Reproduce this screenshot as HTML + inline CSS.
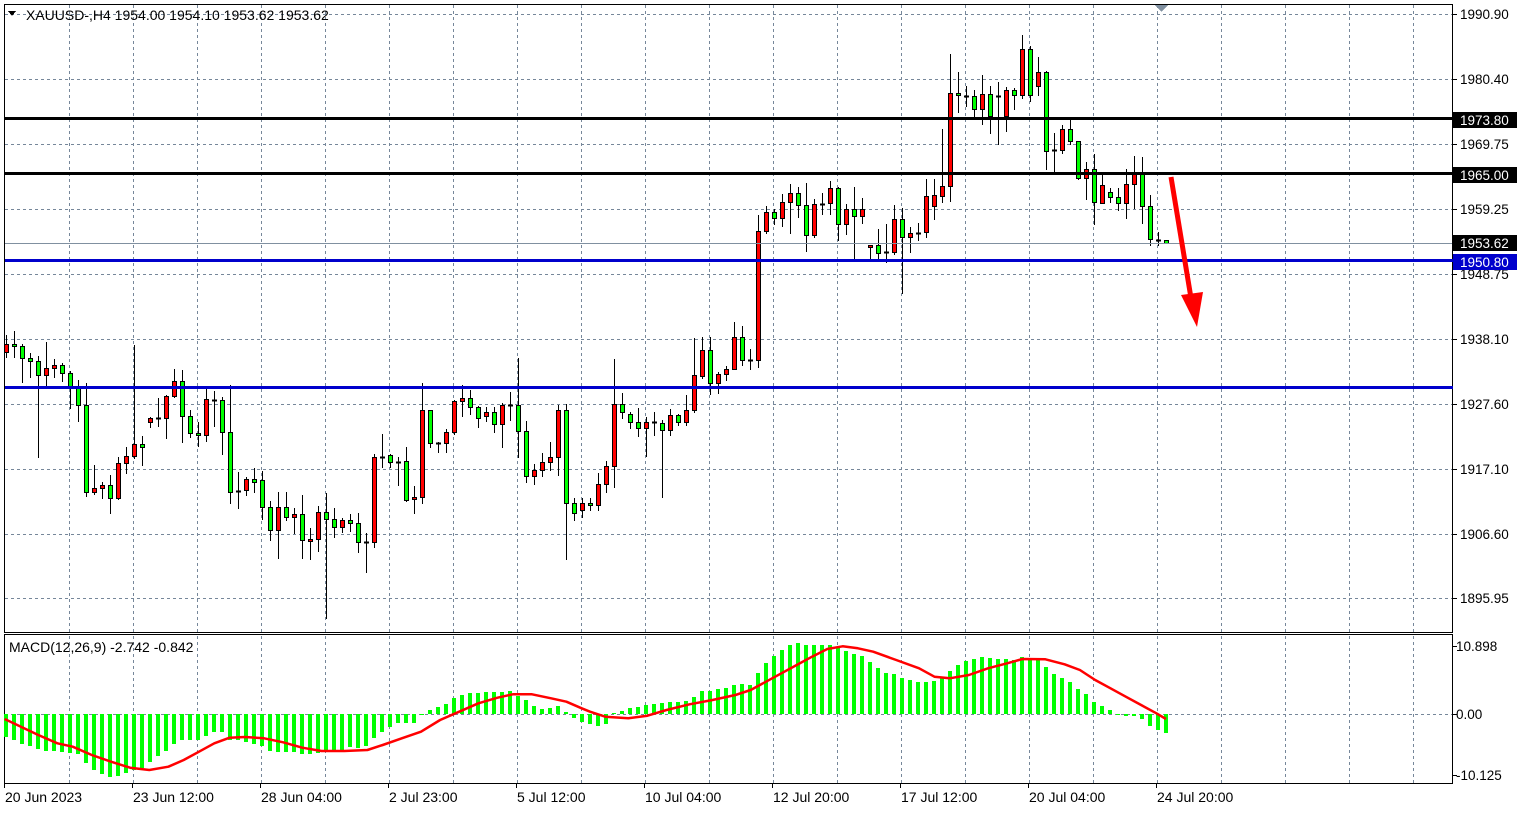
<!DOCTYPE html>
<html><head><meta charset="utf-8"><style>
html,body{margin:0;padding:0;background:#fff;}
svg{display:block;font-family:"Liberation Sans",sans-serif;}
</style></head><body>
<svg id="s" width="1526" height="813" xmlns="http://www.w3.org/2000/svg" shape-rendering="crispEdges"></svg>
<script>
const S=document.getElementById('s');const NS='http://www.w3.org/2000/svg';
function el(t,a,txt){const e=document.createElementNS(NS,t);for(const k in a)e.setAttribute(k,a[k]);if(txt!==undefined)e.textContent=txt;S.appendChild(e);return e;}
el('rect',{x:0,y:0,width:1526,height:813,fill:'#fff'});
const hy=[14,79,144,209,274,339,404,469,534,598];
hy.forEach(y=>el('line',{x1:5,x2:1452,y1:y+.5,y2:y+.5,stroke:'#76879a','stroke-dasharray':'3,3'}));
for(let x=69;x<1452;x+=64){el('line',{x1:x+.5,x2:x+.5,y1:5,y2:632,stroke:'#76879a','stroke-dasharray':'3,3'});el('line',{x1:x+.5,x2:x+.5,y1:636,y2:783,stroke:'#76879a','stroke-dasharray':'3,3'});}
el('line',{x1:5,x2:1452,y1:714.5,y2:714.5,stroke:'#76879a','stroke-dasharray':'3,3'});
el('rect',{x:4.5,y:4.5,width:1448,height:628,fill:'none',stroke:'#000'});
el('rect',{x:4.5,y:634.5,width:1448,height:149,fill:'none',stroke:'#000'});
const H=[737,740,744,746,749,751,751,752,753,754,763,770,774,777,776,773,770,768,762,756,751,744,740,740,740,736,732,732,740,740,742,744,746,751,752,752,752,754,754,753,752,751,750,747,748,746,738,732,727,723,723,723,714,710,707,704,698,695,693,693,692,692,692,691,696,700,706,709,708,706,712,718,722,724,726,724,713,711,708,707,705,704,703,702,702,701,697,691,691,689,688,685,684,685,673,663,656,650,645,643,645,645,645,645,648,651,654,656,662,668,673,674,678,680,682,682,681,678,671,665,661,659,657,658,659,659,660,657,659,660,667,674,678,682,689,694,702,706,710,715,716,716,719,726,730,733];
H.forEach((y,i)=>{const x=6+8*i;const t=Math.min(y,714),b=Math.max(y,714);el('rect',{x:x-2,y:t,width:4,height:Math.max(1,b-t),fill:'#00ff00'});});
const p1=[[12,252],[100,300],[150,325],[190,335],[240,360],[290,380],[340,398],[390,405],[440,395],[480,375],[520,350],[560,325],[600,308],[640,306],[690,310],[740,322],[790,338],[840,348],[900,348],[960,345],[1000,330],[1050,310],[1100,290],[1150,255],[1200,230],[1250,205],[1300,188],[1340,178],[1390,178],[1440,190],[1480,200],[1520,220]].map(p=>[p[0]/2.613,635+p[1]/3]);
const p2=[[0,230],[40,245],[100,250],[150,242],[200,225],[260,208],[320,195],[380,180],[420,165],[460,140],[500,115],[540,90],[580,65],[620,42],[660,34],[700,40],[740,50],[800,75],[860,100],[900,125],[940,130],[990,120],[1040,100],[1090,85],[1130,72],[1190,73],[1240,88],[1280,105],[1320,135],[1360,160],[1400,185],[1440,210],[1480,235],[1505,252]].map(p=>[590+p[0]/2.613,635+p[1]/3]);
el('polyline',{points:p1.concat(p2).map(p=>p[0].toFixed(1)+','+p[1].toFixed(1)).join(' '),fill:'none',stroke:'#ff0000','stroke-width':2.5,'stroke-linejoin':'round','shape-rendering':'auto'});
const C=[[344,352,335,357,'r'],[344,346,331,357,'g'],[346,358,344,382,'g'],[358,361,353,377,'g'],[361,375,356,457,'g'],[368,375,342,386,'r'],[365,368,359,377,'r'],[365,373,363,381,'g'],[373,388,371,408,'g'],[388,405,380,421,'g'],
[405,492,383,496,'g'],[488,492,465,494,'r'],[485,488,482,498,'r'],[485,498,475,513,'g'],[463,498,457,499,'r'],[456,463,447,473,'r'],[444,456,345,458,'r'],[444,447,436,465,'g'],[418,422,417,427,'r'],[418,418,398,426,'d'],
[396,418,395,438,'r'],[381,396,369,397,'r'],[381,416,370,442,'g'],[416,433,410,437,'g'],[433,435,422,446,'g'],[399,435,389,441,'r'],[400,400,391,426,'d'],[400,432,397,454,'g'],[432,492,385,503,'g'],[491,491,472,508,'d'],
[479,490,477,495,'r'],[479,482,468,492,'g'],[480,507,471,519,'g'],[507,530,501,540,'g'],[507,530,492,558,'r'],[507,517,492,520,'g'],[514,517,508,533,'r'],[514,540,495,558,'g'],[539,541,528,559,'r'],[512,539,506,551,'r'],
[512,519,493,618,'g'],[519,527,508,537,'g'],[520,527,518,532,'r'],[520,523,514,531,'g'],[523,542,513,552,'g'],[542,542,533,572,'d'],[457,542,454,547,'r'],[457,457,434,467,'d'],[455,462,454,467,'g'],[462,462,457,485,'d'],
[461,500,447,501,'g'],[497,499,486,513,'r'],[410,497,383,503,'r'],[410,443,410,447,'g'],[443,443,442,452,'d'],[432,443,429,452,'r'],[401,432,400,434,'r'],[398,401,385,416,'r'],[398,407,390,414,'g'],[407,418,406,427,'g'],
[412,416,407,421,'r'],[412,424,407,432,'g'],[405,424,403,447,'r'],[405,405,392,420,'d'],[405,431,358,457,'g'],[431,476,421,482,'g'],[470,476,464,484,'r'],[462,470,453,476,'r'],[457,462,442,470,'r'],[410,457,405,475,'r'],
[410,503,404,559,'g'],[503,513,498,520,'g'],[503,510,498,517,'r'],[503,505,498,510,'g'],[484,505,473,510,'r'],[466,484,461,492,'r'],[404,466,359,487,'r'],[404,412,393,418,'g'],[414,422,412,428,'g'],[422,428,408,436,'g'],
[422,428,417,456,'r'],[422,422,412,435,'d'],[423,430,420,497,'g'],[415,430,409,435,'r'],[415,422,414,425,'g'],[410,422,395,425,'r'],[375,410,338,412,'r'],[350,376,337,378,'r'],[350,383,337,394,'g'],[374,383,372,393,'r'],
[369,374,366,380,'r'],[337,369,322,369,'r'],[337,360,326,365,'g'],[360,360,349,369,'d'],[231,360,215,367,'r'],[212,231,206,233,'r'],[212,218,209,224,'g'],[202,218,194,226,'r'],[193,202,184,233,'r'],[193,205,187,217,'g'],
[205,235,183,251,'g'],[204,235,199,237,'r'],[204,204,193,214,'d'],[188,203,181,214,'r'],[188,224,187,240,'g'],[209,224,204,234,'r'],[209,216,187,258,'g'],[209,216,198,223,'r'],[245,247,245,258,'r'],[245,253,229,258,'g'],
[252,252,224,262,'d'],[219,252,205,254,'r'],[219,237,208,293,'g'],[233,237,227,252,'r'],[233,233,223,240,'d'],[196,232,179,237,'r'],[195,206,179,219,'r'],[186,196,129,202,'r'],[93,186,54,201,'r'],[93,95,72,112,'g'],
[96,96,86,106,'d'],[96,109,90,116,'g'],[94,109,75,124,'r'],[94,116,86,133,'g'],[96,96,82,144,'d'],[90,116,87,131,'r'],[90,95,88,109,'g'],[49,95,35,98,'r'],[49,95,46,101,'g'],[72,86,57,95,'r'],
[72,151,71,169,'g'],[150,150,133,171,'d'],[129,150,125,153,'r'],[129,141,119,144,'g'],[141,178,141,179,'g'],[169,178,162,199,'r'],[169,202,154,224,'g'],[185,203,174,203,'r'],[192,197,188,202,'g'],[197,203,188,210,'g'],
[184,203,169,218,'r'],[174,184,156,208,'r'],[174,206,157,223,'g'],[206,239,195,245,'g'],[240,240,232,245,'d'],[240,243,240,243,'g']];
C.forEach((c,i)=>{const x=6+8*i;el('line',{x1:x+.5,x2:x+.5,y1:c[2],y2:c[3]+1,stroke:'#000'});
 if(c[4]==='d'){el('line',{x1:x-2,x2:x+3,y1:c[0]+.5,y2:c[0]+.5,stroke:'#000','stroke-width':2});}
 else{el('rect',{x:x-1.5,y:c[0]+.5,width:4,height:Math.max(2,c[1]-c[0]),fill:c[4]==='r'?'#ff0000':'#00ff00',stroke:'#000'});}});
el('line',{x1:5,x2:1452,y1:243.5,y2:243.5,stroke:'#8090a0'});
el('rect',{x:5,y:117,width:1448,height:3,fill:'#000'});
el('rect',{x:5,y:172,width:1448,height:3,fill:'#000'});
el('rect',{x:5,y:259,width:1448,height:3,fill:'#0000cc'});
el('rect',{x:5,y:386,width:1448,height:3,fill:'#0000cc'});
el('line',{x1:1171,y1:177,x2:1191,y2:298,stroke:'#ff0000','stroke-width':5,'shape-rendering':'auto'});
el('polygon',{points:'1181,295 1203,292 1197,327',fill:'#ff0000','shape-rendering':'auto'});
el('polygon',{points:'1155,5 1168,5 1161.5,12',fill:'#8090a0'});
const L=[[14,'1990.90'],[79,'1980.40'],[144,'1969.75'],[209,'1959.25'],[274,'1948.75'],[339,'1938.10'],[404,'1927.60'],[469,'1917.10'],[534,'1906.60'],[598,'1895.95']];
L.forEach(l=>{el('line',{x1:1453,x2:1457,y1:l[0]+.5,y2:l[0]+.5,stroke:'#000'});el('text',{x:1460,y:l[0]+5,'font-size':13.5,fill:'#000'},l[1]);});
function box(y,t,col){el('rect',{x:1453,y:y-8,width:64,height:16,fill:col});el('text',{x:1460,y:y+5,'font-size':13.5,fill:'#fff'},t);}
box(120,'1973.80','#000');box(175,'1965.00','#000');box(243,'1953.62','#000');box(262,'1950.80','#0000cc');
[[646,'10.898'],[714,'0.00'],[775,'-10.125']].forEach(l=>{el('line',{x1:1453,x2:1457,y1:l[0]+.5,y2:l[0]+.5,stroke:'#000'});el('text',{x:1456,y:l[0]+5,'font-size':13.5,fill:'#000'},l[1]);});
const D=['20 Jun 2023','23 Jun 12:00','28 Jun 04:00','2 Jul 23:00','5 Jul 12:00','10 Jul 04:00','12 Jul 20:00','17 Jul 12:00','20 Jul 04:00','24 Jul 20:00'];
D.forEach((d,i)=>{const x=4+128*i;el('line',{x1:x+.5,x2:x+.5,y1:784,y2:788,stroke:'#000'});el('text',{x:x+1,y:802,'font-size':14,fill:'#000'},d);});
el('polygon',{points:'8,11 16,11 12,16',fill:'#000'});
el('text',{x:26,y:20,'font-size':14,fill:'#000'},'XAUUSD-,H4  1954.00 1954.10 1953.62 1953.62');
el('text',{x:9,y:652,'font-size':14,fill:'#000'},'MACD(12,26,9) -2.742 -0.842');
</script>
</body></html>
